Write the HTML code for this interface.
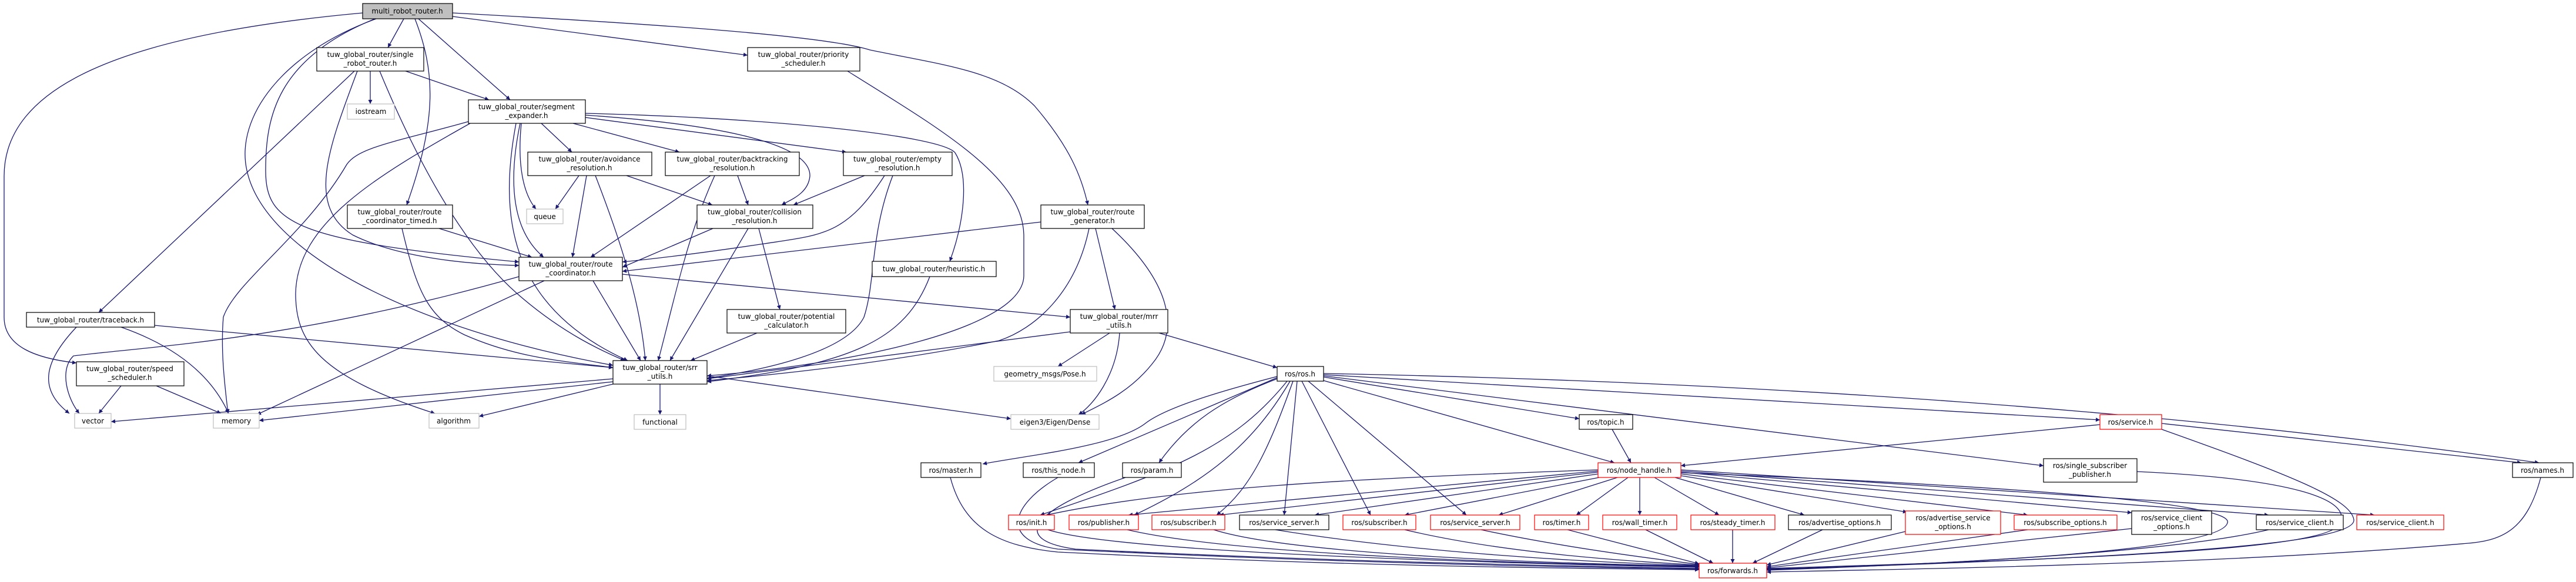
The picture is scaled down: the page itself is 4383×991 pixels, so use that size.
<!DOCTYPE html>
<html><head><meta charset="utf-8"><style>
html,body{margin:0;padding:0;background:#fff;}
svg{display:block;}
text{font-family:"DejaVu Sans","Liberation Sans",sans-serif;font-size:12px;fill:#000;text-anchor:middle;}
.e{fill:none;stroke:#191970;stroke-width:1.3;marker-end:url(#a);}
.n{fill:#fff;stroke:#000;stroke-width:1.2;}
.g{fill:#fff;stroke:#bfbfbf;stroke-width:1.2;}
.r{fill:#fff;stroke:#ff0000;stroke-width:1.2;}
.root{fill:#bfbfbf;stroke:#000;stroke-width:1.2;}
</style></head><body>
<svg width="4383" height="991" viewBox="0 0 4383 991" xmlns="http://www.w3.org/2000/svg">
<defs><marker id="a" viewBox="0 0 10 10" refX="10" refY="5" markerWidth="8" markerHeight="7" markerUnits="userSpaceOnUse" orient="auto"><path d="M0,0 L10,5 L0,10 z" fill="#191970"/></marker></defs>
<g>
<!-- MRR -->
<path class="e" d="M687 32 L660 81"/>
<path class="e" d="M712 32 L868 170"/>
<path class="e" d="M706 32 C740 120,745 200,692 349"/>
<path class="e" d="M638 32 C470 100,452 200,452 290 C452 380,500 410,883 446"/>
<path class="e" d="M640 32 C480 90,400 200,420 290 C450 430,700 560,1043 622"/>
<path class="e" d="M617 22 C200 60,7 150,7 300 L7 540 C7 590,60 610,130 618"/>
<path class="e" d="M770 28 L1272 94"/>
<path class="e" d="M770 22 C1100 40,1400 60,1480 85 C1600 110,1700 120,1760 180 C1820 250,1840 300,1851 349"/>
<!-- SRR -->
<path class="e" d="M630 121 L630 177"/>
<path class="e" d="M690 121 L832 170"/>
<path class="e" d="M603 121 L168 532"/>
<path class="e" d="M608 121 C560 250,520 350,600 400 C680 440,800 450,883 452"/>
<path class="e" d="M646 121 C720 300,800 430,880 500 C960 570,1030 600,1063 614"/>
<!-- SE -->
<path class="e" d="M921 210 L973 259"/>
<path class="e" d="M887 210 C880 280,890 330,912 356"/>
<path class="e" d="M885 210 C860 330,880 400,925 438"/>
<path class="e" d="M975 210 L1156 259"/>
<path class="e" d="M996 200 L1440 259"/>
<path class="e" d="M996 196 C1200 210,1380 240,1378 300 C1375 330,1345 340,1330 349"/>
<path class="e" d="M996 193 C1300 200,1600 230,1625 260 C1650 300,1640 380,1616 445"/>
<path class="e" d="M878 210 C850 360,860 520,1068 614"/>
<path class="e" d="M797 207 C680 240,610 250,590 280 C520 400,400 480,380 540 C375 600,383 660,388 704"/>
<path class="e" d="M800 210 C640 300,505 380,503 500 C503 580,540 640,740 704"/>
<!-- avoidance -->
<path class="e" d="M985 299 L945 356"/>
<path class="e" d="M998 299 L974 438"/>
<path class="e" d="M1013 299 C1060 420,1090 520,1098 614"/>
<path class="e" d="M1066 299 L1212 349"/>
<!-- backtracking -->
<path class="e" d="M1255 299 L1273 349"/>
<path class="e" d="M1209 299 L1005 438"/>
<path class="e" d="M1216 299 C1170 400,1150 500,1120 614"/>
<!-- empty -->
<path class="e" d="M1471 299 L1350 349"/>
<path class="e" d="M1505 299 C1440 400,1400 400,1300 415 C1200 430,1120 440,1059 446"/>
<path class="e" d="M1519 299 C1480 400,1490 480,1470 540 C1440 600,1300 630,1203 644"/>
<!-- collision -->
<path class="e" d="M1213 389 L1059 455"/>
<path class="e" d="M1291 389 L1327 527"/>
<path class="e" d="M1273 389 L1140 614"/>
<!-- RCT -->
<path class="e" d="M747 389 L905 438"/>
<path class="e" d="M684 389 C710 500,730 540,790 570 C880 610,960 615,1043 626"/>
<!-- RC -->
<path class="e" d="M1009 478 L1090 614"/>
<path class="e" d="M926 478 L437 706"/>
<path class="e" d="M883 471 C500 580,250 590,125 606 C100 630,115 680,135 704"/>
<path class="e" d="M1059 467 L1821 540"/>
<!-- traceback -->
<path class="e" d="M130 557 C80 610,60 660,118 704"/>
<path class="e" d="M206 557 C300 590,360 640,389 704"/>
<path class="e" d="M263 554 L1043 626"/>
<!-- speed -->
<path class="e" d="M206 657 L168 704"/>
<path class="e" d="M266 657 L376 704"/>
<!-- srr_utils -->
<path class="e" d="M1043 645 L189 718"/>
<path class="e" d="M1043 650 L441 716"/>
<path class="e" d="M1043 654 L815 709"/>
<path class="e" d="M1123 654 L1123 706"/>
<path class="e" d="M1203 640 L1720 713"/>
<!-- priority -->
<path class="e" d="M1442 121 C1600 220,1740 300,1742 400 L1742 470 C1740 560,1450 620,1203 640"/>
<!-- route generator -->
<path class="e" d="M1771 378 L1059 462"/>
<path class="e" d="M1853 389 C1830 500,1760 560,1700 580 C1500 620,1300 640,1203 648"/>
<path class="e" d="M1864 389 L1897 527"/>
<path class="e" d="M1892 389 C1990 480,2010 560,1960 620 C1920 670,1870 690,1840 706"/>
<!-- heuristic / potential -->
<path class="e" d="M1582 471 C1540 580,1450 620,1203 650"/>
<path class="e" d="M1288 567 L1175 614"/>
<!-- mrr_utils -->
<path class="e" d="M1821 565 L1203 645"/>
<path class="e" d="M1888 567 L1800 624"/>
<path class="e" d="M1905 567 C1900 640,1860 690,1835 706"/>
<path class="e" d="M1972 567 L2173 626"/>
<!-- ros.h -->
<path class="e" d="M2173 641 C2100 660,1990 690,1950 720 C1900 760,1750 775,1672 790"/>
<path class="e" d="M2173 643 L1835 788"/>
<path class="e" d="M2173 645 C2080 680,2020 720,1972 788"/>
<path class="e" d="M2190 649 C2100 760,2000 800,1770 877"/>
<path class="e" d="M2195 649 C2130 760,2050 820,1930 877"/>
<path class="e" d="M2200 649 C2160 760,2130 830,2070 877"/>
<path class="e" d="M2207 649 L2185 877"/>
<path class="e" d="M2215 649 L2332 877"/>
<path class="e" d="M2226 649 L2495 877"/>
<path class="e" d="M2252 648 L2747 788"/>
<path class="e" d="M2252 642 L2687 713"/>
<path class="e" d="M2252 638 L3573 715"/>
<path class="e" d="M2252 640 L3477 793"/>
<path class="e" d="M2252 636 C3000 650,3700 700,4320 788"/>
<!-- topic/service -->
<path class="e" d="M2743 731 L2775 788"/>
<path class="e" d="M3573 723 L2860 793"/>
<path class="e" d="M3678 721 L4290 788"/>
<path class="e" d="M3678 731 C3900 810,4000 850,4005 885 C4010 930,3600 950,3006 970"/>
<path class="e" d="M3636 803 C3900 815,4000 850,3982 890 C3970 935,3600 950,3006 968"/>
<path class="e" d="M4323 813 C4300 900,4260 920,4200 925 C3800 960,3300 968,3006 974"/>
<!-- node_handle -->
<path class="e" d="M2719 800 C2300 815,2000 830,1780 877"/>
<path class="e" d="M2719 802 L1920 877"/>
<path class="e" d="M2719 804 L2075 877"/>
<path class="e" d="M2719 807 L2237 877"/>
<path class="e" d="M2721 813 L2390 877"/>
<path class="e" d="M2752 813 L2550 877"/>
<path class="e" d="M2770 813 L2682 877"/>
<path class="e" d="M2790 813 L2790 877"/>
<path class="e" d="M2815 813 L2925 877"/>
<path class="e" d="M2850 813 L3070 877"/>
<path class="e" d="M2860 810 L3245 872"/>
<path class="e" d="M2860 807 L3450 877"/>
<path class="e" d="M2860 804 L3627 873"/>
<path class="e" d="M2860 802 L3860 877"/>
<path class="e" d="M2860 800 L4040 877"/>
<path class="e" d="M2860 805 C3500 830,3800 860,3790 890 C3780 940,3300 960,3006 971"/>
<!-- to forwards -->
<path class="e" d="M1617 813 C1640 900,1700 930,1800 940 C2300 965,2700 968,2891 970"/>
<path class="e" d="M1800 813 C1720 860,1700 920,1800 935 C2300 960,2700 966,2891 969"/>
<path class="e" d="M1915 813 C1750 870,1720 920,1830 935 C2300 958,2700 964,2891 968"/>
<path class="e" d="M1783 902 C1900 940,2500 958,2891 966"/>
<path class="e" d="M1918 902 C2100 945,2600 960,2891 965"/>
<path class="e" d="M2065 902 C2200 945,2650 960,2891 964"/>
<path class="e" d="M2170 902 C2400 940,2700 958,2891 963"/>
<path class="e" d="M2390 902 C2550 940,2750 955,2891 962"/>
<path class="e" d="M2520 902 C2650 930,2800 950,2891 961"/>
<path class="e" d="M2667 902 L2891 960"/>
<path class="e" d="M2800 902 L2915 959"/>
<path class="e" d="M2948 902 L2948 959"/>
<path class="e" d="M3101 902 L2982 959"/>
<path class="e" d="M3242 905 L3006 962"/>
<path class="e" d="M3450 902 L3006 965"/>
<path class="e" d="M3627 900 L3006 967"/>
<path class="e" d="M3860 902 C3700 940,3300 962,3006 969"/>
</g>
<!-- nodes -->
<g>
<rect class="root" x="617" y="6" width="153" height="26"/><text x="693" y="23">multi_robot_router.h</text>
<rect class="n" x="539" y="81" width="182" height="40"/><text x="630" y="97">tuw_global_router/single</text><text x="630" y="112">_robot_router.h</text>
<rect class="g" x="591" y="177" width="80" height="26"/><text x="631" y="194">iostream</text>
<rect class="n" x="797" y="170" width="199" height="40"/><text x="896" y="186">tuw_global_router/segment</text><text x="896" y="201">_expander.h</text>
<rect class="n" x="898" y="259" width="211" height="40"/><text x="1003" y="275">tuw_global_router/avoidance</text><text x="1003" y="290">_resolution.h</text>
<rect class="g" x="896" y="356" width="62" height="25"/><text x="927" y="373">queue</text>
<rect class="n" x="591" y="349" width="179" height="40"/><text x="680" y="365">tuw_global_router/route</text><text x="680" y="380">_coordinator_timed.h</text>
<rect class="n" x="883" y="438" width="176" height="40"/><text x="971" y="454">tuw_global_router/route</text><text x="971" y="469">_coordinator.h</text>
<rect class="n" x="45" y="532" width="218" height="25"/><text x="154" y="549">tuw_global_router/traceback.h</text>
<rect class="n" x="130" y="616" width="183" height="41"/><text x="221" y="632">tuw_global_router/speed</text><text x="221" y="647">_scheduler.h</text>
<rect class="g" x="127" y="704" width="62" height="25"/><text x="158" y="721">vector</text>
<rect class="g" x="363" y="704" width="78" height="25"/><text x="402" y="721">memory</text>
<rect class="g" x="730" y="704" width="85" height="25"/><text x="772" y="721">algorithm</text>
<rect class="g" x="1079" y="706" width="88" height="25"/><text x="1123" y="723">functional</text>
<rect class="n" x="1043" y="614" width="160" height="40"/><text x="1123" y="630">tuw_global_router/srr</text><text x="1123" y="645">_utils.h</text>
<rect class="n" x="1272" y="81" width="191" height="40"/><text x="1367" y="97">tuw_global_router/priority</text><text x="1367" y="112">_scheduler.h</text>
<rect class="n" x="1132" y="259" width="228" height="40"/><text x="1246" y="275">tuw_global_router/backtracking</text><text x="1246" y="290">_resolution.h</text>
<rect class="n" x="1435" y="259" width="185" height="40"/><text x="1527" y="275">tuw_global_router/empty</text><text x="1527" y="290">_resolution.h</text>
<rect class="n" x="1186" y="349" width="197" height="40"/><text x="1284" y="365">tuw_global_router/collision</text><text x="1284" y="380">_resolution.h</text>
<rect class="n" x="1771" y="349" width="176" height="40"/><text x="1859" y="365">tuw_global_router/route</text><text x="1859" y="380">_generator.h</text>
<rect class="n" x="1484" y="445" width="211" height="26"/><text x="1589" y="462">tuw_global_router/heuristic.h</text>
<rect class="n" x="1237" y="527" width="202" height="40"/><text x="1338" y="543">tuw_global_router/potential</text><text x="1338" y="558">_calculator.h</text>
<rect class="n" x="1821" y="527" width="166" height="40"/><text x="1904" y="543">tuw_global_router/mrr</text><text x="1904" y="558">_utils.h</text>
<rect class="g" x="1691" y="624" width="175" height="25"/><text x="1778" y="641">geometry_msgs/Pose.h</text>
<rect class="g" x="1720" y="706" width="150" height="25"/><text x="1795" y="723">eigen3/Eigen/Dense</text>
<rect class="n" x="2173" y="624" width="79" height="25"/><text x="2212" y="641">ros/ros.h</text>
<rect class="n" x="1567" y="788" width="102" height="25"/><text x="1618" y="805">ros/master.h</text>
<rect class="n" x="1741" y="788" width="121" height="25"/><text x="1801" y="805">ros/this_node.h</text>
<rect class="n" x="1910" y="788" width="100" height="25"/><text x="1960" y="805">ros/param.h</text>
<rect class="n" x="2687" y="706" width="91" height="25"/><text x="2732" y="723">ros/topic.h</text>
<rect class="r" x="2719" y="788" width="141" height="25"/><text x="2789" y="805">ros/node_handle.h</text>
<rect class="r" x="3573" y="706" width="105" height="25"/><text x="3625" y="723">ros/service.h</text>
<rect class="n" x="3477" y="781" width="159" height="40"/><text x="3556" y="797">ros/single_subscriber</text><text x="3556" y="812">_publisher.h</text>
<rect class="n" x="4275" y="788" width="103" height="25"/><text x="4326" y="805">ros/names.h</text>
<rect class="r" x="1716" y="877" width="78" height="25"/><text x="1755" y="894">ros/init.h</text>
<rect class="r" x="1819" y="877" width="118" height="25"/><text x="1878" y="894">ros/publisher.h</text>
<rect class="r" x="1960" y="877" width="124" height="25"/><text x="2022" y="894">ros/subscriber.h</text>
<rect class="n" x="2109" y="877" width="152" height="25"/><text x="2185" y="894">ros/service_server.h</text>
<rect class="r" x="2285" y="877" width="124" height="25"/><text x="2347" y="894">ros/subscriber.h</text>
<rect class="r" x="2434" y="877" width="152" height="25"/><text x="2510" y="894">ros/service_server.h</text>
<rect class="r" x="2611" y="877" width="92" height="25"/><text x="2657" y="894">ros/timer.h</text>
<rect class="r" x="2727" y="877" width="126" height="25"/><text x="2790" y="894">ros/wall_timer.h</text>
<rect class="r" x="2877" y="877" width="143" height="25"/><text x="2948" y="894">ros/steady_timer.h</text>
<rect class="n" x="3043" y="877" width="175" height="25"/><text x="3130" y="894">ros/advertise_options.h</text>
<rect class="r" x="3242" y="870" width="162" height="40"/><text x="3323" y="886">ros/advertise_service</text><text x="3323" y="901">_options.h</text>
<rect class="r" x="3427" y="877" width="175" height="25"/><text x="3514" y="894">ros/subscribe_options.h</text>
<rect class="n" x="3627" y="870" width="136" height="40"/><text x="3695" y="886">ros/service_client</text><text x="3695" y="901">_options.h</text>
<rect class="n" x="3839" y="877" width="148" height="25"/><text x="3913" y="894">ros/service_client.h</text>
<rect class="r" x="4010" y="877" width="148" height="25"/><text x="4084" y="894">ros/service_client.h</text>
<rect class="r" x="2891" y="959" width="115" height="25"/><text x="2948" y="976">ros/forwards.h</text>
</g>
</svg>
</body></html>
